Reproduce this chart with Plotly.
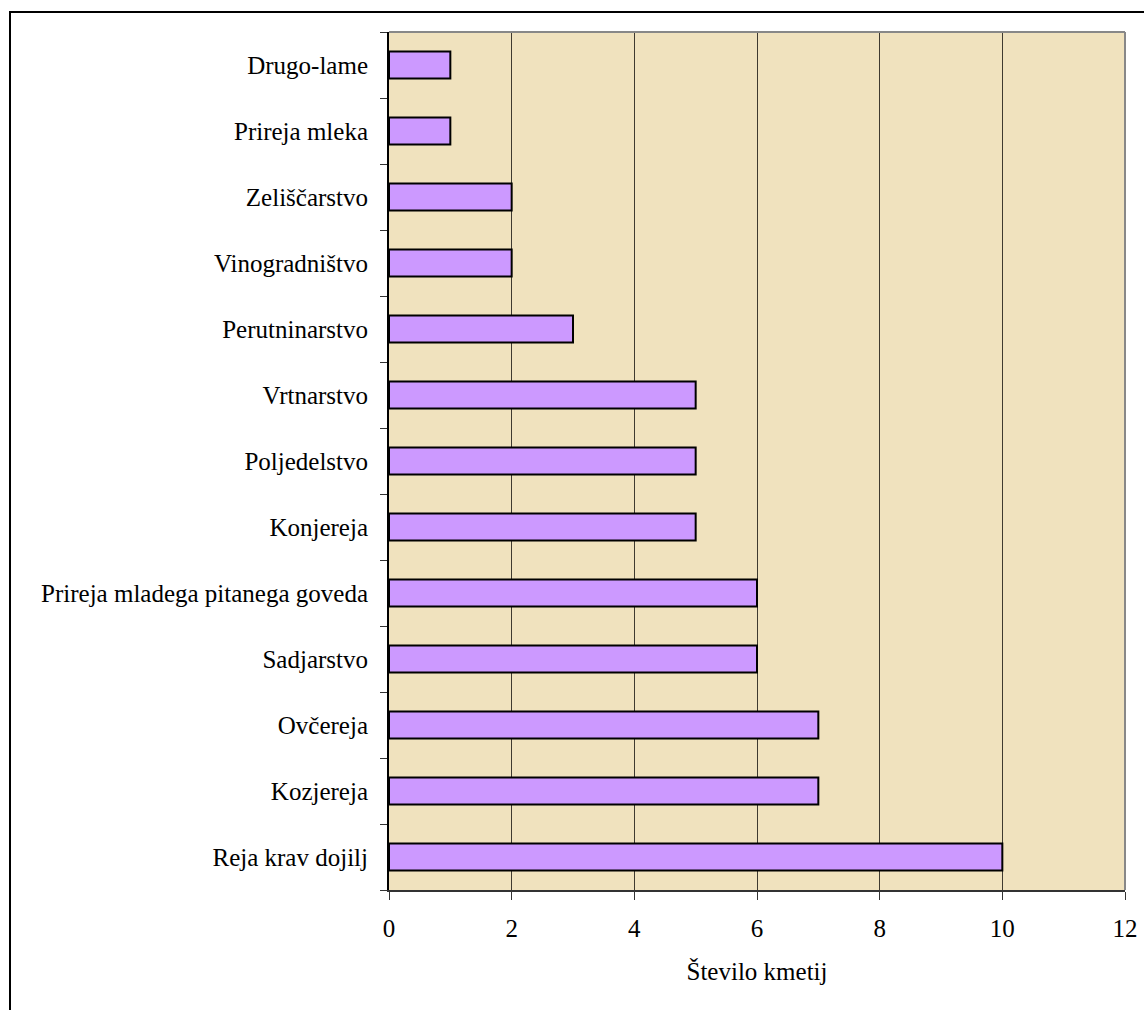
import plotly.graph_objects as go

categories = [
    "Reja krav dojilj", "Kozjereja", "Ovčereja", "Sadjarstvo",
    "Prireja mladega pitanega goveda", "Konjereja", "Poljedelstvo",
    "Vrtnarstvo", "Perutninarstvo", "Vinogradništvo", "Zeliščarstvo",
    "Prireja mleka", "Drugo-lame",
]
values = [10, 7, 7, 6, 6, 5, 5, 5, 3, 2, 2, 1, 1]
x_ticks = [0, 2, 4, 6, 8, 10, 12]
x_title = "Število kmetij"

FONT = "Liberation Serif, Times New Roman, serif"

W, H = 1144, 1010
ML, MR, MT, MB = 389, 19, 32, 120

fig = go.Figure(go.Bar(
    x=values, y=categories, orientation="h",
    width=0.41,
    marker=dict(color="#CC99FF", line=dict(color="black", width=2)),
    hoverinfo="x+y",
))

fig.update_layout(
    width=W, height=H,
    margin=dict(l=ML, r=MR, t=MT, b=MB, autoexpand=False),
    paper_bgcolor="white",
    plot_bgcolor="#F0E2BE",
    font=dict(family=FONT, size=25, color="black"),
    showlegend=False,
)
fig.update_xaxes(
    range=[0, 12], tickvals=x_ticks, ticktext=[str(v) for v in x_ticks],
    showgrid=True, gridcolor="#3f3a30", gridwidth=1,
    showline=True, linecolor="#333333", linewidth=2,
    ticks="outside", ticklen=8, tickcolor="#333333", tickwidth=1,
    ticklabelstandoff=7,
    zeroline=False,
    title=dict(text=x_title, standoff=21, font=dict(size=25)),
    automargin=False,
)
fig.update_yaxes(
    type="category", categoryorder="array", categoryarray=categories,
    range=[-0.5, len(categories) - 0.5],
    showgrid=False,
    showline=True, linecolor="black", linewidth=2,
    ticks="outside", tickson="boundaries", ticklen=7, tickcolor="#333333",
    ticklabelstandoff=14,
    automargin=False,
)
pw = W - ML - MR
ph = H - MT - MB
# plot-area frame (top/right) and outer chart border
fig.add_shape(type="line", xref="paper", yref="paper", x0=0, x1=1, y0=1, y1=1,
              line=dict(color="#888888", width=2))
fig.add_shape(type="line", xref="paper", yref="paper", x0=1, x1=1, y0=0, y1=1,
              line=dict(color="#888888", width=2))
fig.add_shape(type="rect", xref="paper", yref="paper",
              x0=(10 - ML) / pw, x1=(W + 20 - ML) / pw,
              y0=-(MB + 20) / ph, y1=1 + (MT - 12) / ph,
              line=dict(color="black", width=2), fillcolor="rgba(0,0,0,0)", layer="below")

fig.write_html(
    "out.html",
    config={"displayModeBar": False},
    post_script="document.body.style.margin='0';document.body.style.overflow='hidden';",
)
